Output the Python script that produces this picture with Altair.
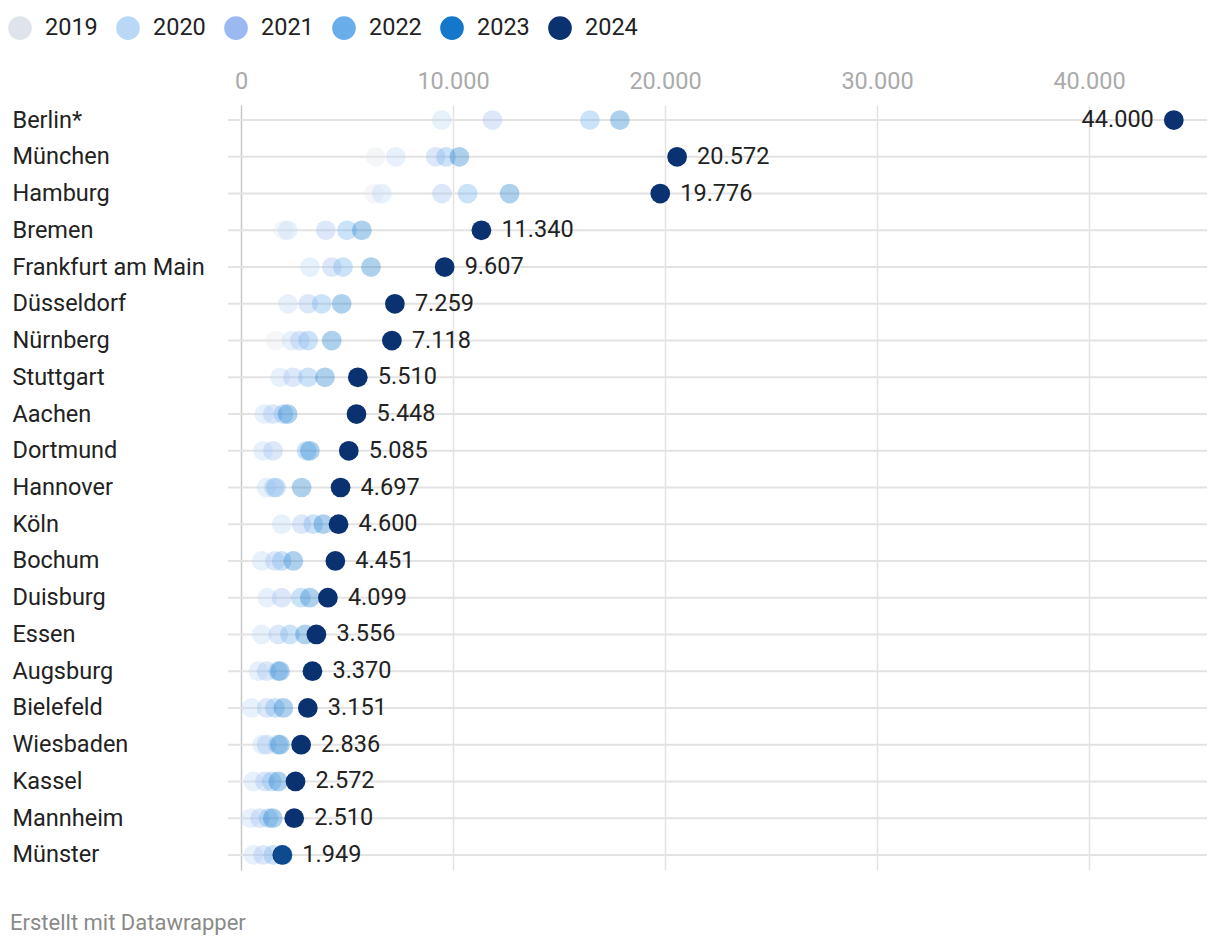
import altair as alt
import pandas as pd

cities = ["Berlin*", "München", "Hamburg", "Bremen", "Frankfurt am Main", "Düsseldorf",
          "Nürnberg", "Stuttgart", "Aachen", "Dortmund", "Hannover", "Köln", "Bochum",
          "Duisburg", "Essen", "Augsburg", "Bielefeld", "Wiesbaden", "Kassel", "Mannheim", "Münster"]
years = ["2019", "2020", "2021", "2022", "2023", "2024"]

v2019 = [None, 6350, 6270, 2000, None, None, 1640, None, None, None, None, None, None, None, None, None, None, None, None, None, None]
v2020 = [9470, 7300, 6640, 2200, 3250, 2220, 2390, 1840, 1100, 1040, 1200, 1920, 980, 1240, 980, 820, 500, 1000, 580, 450, 580]
v2021 = [11860, 9180, 9480, 4000, 4290, 3170, 2780, 2450, 1500, 1510, 1550, 2860, 1600, 1920, 1760, 1210, 1210, 1200, 1130, 900, 1050]
v2022 = [16460, 9670, 10690, 5000, 4810, 3810, 3170, 3160, 2000, 3100, 1650, 3410, 1920, 2820, 2310, 1750, 1600, 1750, 1450, 1300, 1520]
v2023 = [17870, 10300, 12670, 5700, 6130, 4750, 4280, 3960, 2200, 3250, 2860, 3880, 2470, 3250, 3020, 1840, 2000, 1840, 1760, 1500, 1970]
v2024 = [44000, 20572, 19776, 11340, 9607, 7259, 7118, 5510, 5448, 5085, 4697, 4600, 4451, 4099, 3556, 3370, 3151, 2836, 2572, 2510, 1949]

colors = ["#dfe4ec", "#b8d8f5", "#9ab9f0", "#69aeeb", "#1577cc", "#0b3270"]

rows = []
for y, vals in zip(years, [v2019, v2020, v2021, v2022, v2023, v2024]):
    for c, v in zip(cities, vals):
        if v is not None:
            rows.append({"city": c, "year": y, "value": v})
df = pd.DataFrame(rows)

lab = pd.DataFrame({"city": cities, "value": v2024,
                    "label": [f"{v:,}".replace(",", ".") for v in v2024]})
rowdf = pd.DataFrame({"city": cities})
foot = pd.DataFrame({"t": ["Erstellt mit Datawrapper"]})

W, H = 979, 765
FONT = "Roboto"
FS = 23.5

xscale = alt.Scale(domain=[-613, 45566], nice=False, zero=False)
yenc = alt.Y("city:N", sort=cities,
             scale=alt.Scale(type="point", padding=0.41),
             axis=alt.Axis(title=None, orient="left", labelAlign="left", labelPadding=216,
                           labelLimit=400,
                           ticks=False, domain=False, grid=False, labelFontSize=FS,
                           labelColor="#222222", labelFont=FONT, labelBaseline="middle"))

hrules = alt.Chart(rowdf).mark_rule(color="#e3e3e3", strokeWidth=2).encode(
    y=yenc, x=alt.value(0), x2=alt.value(W))

points = alt.Chart(df).mark_circle(size=390).encode(
    x=alt.X("value:Q", scale=xscale,
            axis=alt.Axis(title=None, orient="top", values=[0, 10000, 20000, 30000, 40000],
                          labelExpr="replace(format(datum.value, ','), ',', '.')",
                          ticks=False, domain=False, labelPadding=12, labelFontSize=FS,
                          labelColor="#aaaaaa", labelFont=FONT,
                          grid=True, gridWidth=1.5,
                          gridColor={"condition": {"test": "datum.value === 0", "value": "#c8c8c8"},
                                     "value": "#e3e3e3"})),
    y=yenc,
    color=alt.Color("year:N", scale=alt.Scale(domain=years, range=colors),
                    legend=alt.Legend(title=None, orient="none", legendX=-220, legendY=-89,
                                      direction="horizontal", symbolType="circle",
                                      symbolSize=560, symbolOpacity=1, symbolStrokeWidth=0,
                                      labelFontSize=FS, labelFont=FONT, labelColor="#222222",
                                      labelOffset=13, columnPadding=18)),
    opacity=alt.condition(alt.datum.year == "2024", alt.value(1.0), alt.value(0.35)),
    order=alt.Order("value:Q"),
)

text_r = alt.Chart(lab).transform_filter(alt.datum.city != "Berlin*").mark_text(
    align="left", baseline="middle", dx=20, fontSize=FS, font=FONT, color="#222222").encode(
    x=alt.X("value:Q", scale=xscale), y=yenc, text="label:N")
text_l = alt.Chart(lab).transform_filter(alt.datum.city == "Berlin*").mark_text(
    align="right", baseline="middle", dx=-20, fontSize=FS, font=FONT, color="#222222").encode(
    x=alt.X("value:Q", scale=xscale), y=yenc, text="label:N")

footer = alt.Chart(foot).mark_text(align="left", baseline="middle", fontSize=22, font=FONT,
                                   color="#8a8a8a").encode(
    text="t:N", x=alt.value(-218), y=alt.value(818))

chart = alt.layer(hrules, points, text_r, text_l, footer).properties(
    width=W, height=H,
    autosize=alt.AutoSizeParams(type="none"),
    padding={"left": 220, "top": 97, "right": 5, "bottom": 70},
).configure_view(stroke=None)

chart.save("out.html", embed_options={"renderer": "svg", "actions": False})
